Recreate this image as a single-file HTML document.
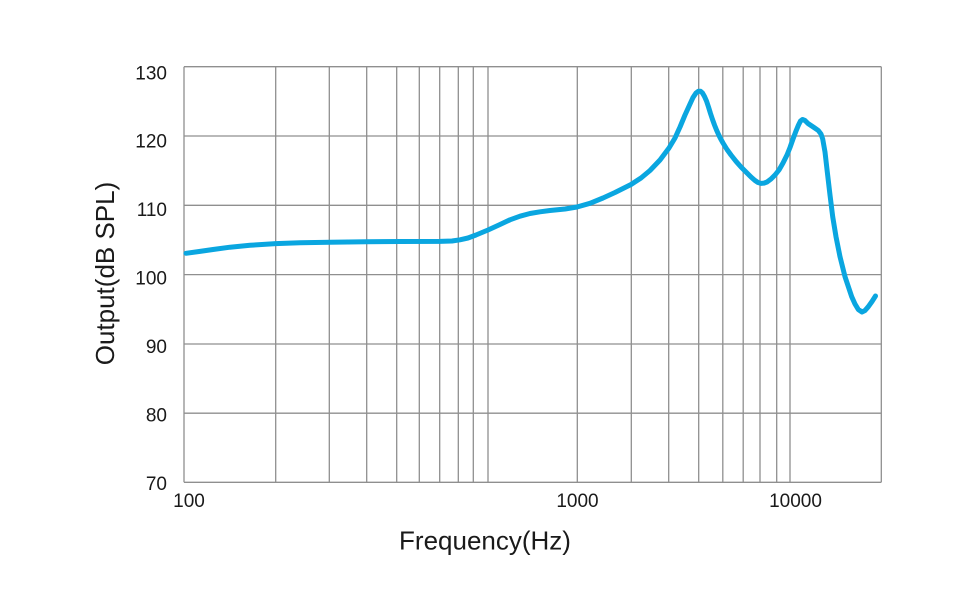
<!DOCTYPE html>
<html>
<head>
<meta charset="utf-8">
<style>
  html, body { margin: 0; padding: 0; background: #ffffff; }
  body { width: 976px; height: 613px; overflow: hidden; }
  svg { display: block; }
  text { font-family: "Liberation Sans", "Noto Sans CJK SC", sans-serif; fill: #1a1a1a; }
</style>
</head>
<body>
<svg width="976" height="613" viewBox="0 0 976 613" xmlns="http://www.w3.org/2000/svg">
  <rect x="0" y="0" width="976" height="613" fill="#ffffff"/>
  <g stroke="#8f8f8f" stroke-width="1.3" fill="none">
    <line x1="184" y1="66.7" x2="881.3" y2="66.7"/>
    <line x1="184" y1="136" x2="881.3" y2="136"/>
    <line x1="184" y1="205.3" x2="881.3" y2="205.3"/>
    <line x1="184" y1="274.6" x2="881.3" y2="274.6"/>
    <line x1="184" y1="344" x2="881.3" y2="344"/>
    <line x1="184" y1="413.2" x2="881.3" y2="413.2"/>
    <line x1="184" y1="482.3" x2="881.3" y2="482.3"/>
    <line x1="184" y1="66.7" x2="184" y2="482.3"/>
    <line x1="275.7" y1="66.7" x2="275.7" y2="482.3"/>
    <line x1="329.3" y1="66.7" x2="329.3" y2="482.3"/>
    <line x1="366.7" y1="66.7" x2="366.7" y2="482.3"/>
    <line x1="396.7" y1="66.7" x2="396.7" y2="482.3"/>
    <line x1="419.3" y1="66.7" x2="419.3" y2="482.3"/>
    <line x1="439.7" y1="66.7" x2="439.7" y2="482.3"/>
    <line x1="458.3" y1="66.7" x2="458.3" y2="482.3"/>
    <line x1="473.3" y1="66.7" x2="473.3" y2="482.3"/>
    <line x1="488" y1="66.7" x2="488" y2="482.3"/>
    <line x1="577.3" y1="66.7" x2="577.3" y2="482.3"/>
    <line x1="631.3" y1="66.7" x2="631.3" y2="482.3"/>
    <line x1="668.7" y1="66.7" x2="668.7" y2="482.3"/>
    <line x1="698.7" y1="66.7" x2="698.7" y2="482.3"/>
    <line x1="722.8" y1="66.7" x2="722.8" y2="482.3"/>
    <line x1="743.2" y1="66.7" x2="743.2" y2="482.3"/>
    <line x1="760" y1="66.7" x2="760" y2="482.3"/>
    <line x1="776.7" y1="66.7" x2="776.7" y2="482.3"/>
    <line x1="790" y1="66.7" x2="790" y2="482.3"/>
    <line x1="881.3" y1="66.7" x2="881.3" y2="482.3"/>
  </g>

  <polyline fill="none" stroke="#0aa6e0" stroke-width="5" stroke-linejoin="round" stroke-linecap="round"
    points="186,253.3 200,251.4 213,249.5 230,247.2 250,245.3 275.7,243.6 300,242.8 330,242.2 366,241.7 400,241.5 440,241.4 452,241 460,239.8 468,238 476,235 488,230 500,224.5 510,219.8 520,216.2 530,213.5 540,211.8 550,210.5 565,209 577,207 590,203.3 603,198 615,192.5 631,184.5 641,178 650,170.5 660,160 669,148 675,138 680,127 685,115 690,104 693,97.5 696,93 698.5,91.2 700.5,91.2 702.5,93 704.5,96.5 706.5,101 708.5,107 710.5,113.5 712.5,119.5 714.5,125 716.5,130 718.5,134.5 720.5,138.5 723,143 727,149.5 731,155 736,161.3 741,167 746,172 751,177 755,180.5 758,182.5 761,183.4 764,183.1 767,182 771,179 775,175 779,170 783,163 787,155 790,147.5 793,139 796,131 798.5,125 800.5,121 802.5,119.5 805,120.5 808,123.5 811,125.5 814,127.5 818.3,130.5 821,134 822.7,139 825,152 827.3,172 830,195 832.7,216.7 836,236.7 840,256.7 845,276.7 851.7,296.7 855,304 858.3,309.5 862,312 865,310.5 868.3,306.7 872,301.5 875.5,296"/>

  <g font-size="19" text-anchor="end">
    <text x="167" y="79.3">130</text>
    <text x="167" y="147.7">120</text>
    <text x="167" y="216.2">110</text>
    <text x="167" y="284.6">100</text>
    <text x="167" y="353.1">90</text>
    <text x="167" y="421.5">80</text>
    <text x="167" y="490">70</text>
  </g>

  <g font-size="19" text-anchor="middle">
    <text x="189" y="507">100</text>
    <text x="577.5" y="507">1000</text>
    <text x="795.5" y="507">10000</text>
  </g>

  <text x="485" y="549.5" font-size="26" text-anchor="middle">Frequency(Hz)</text>
  <text x="0" y="0" font-size="26" text-anchor="middle" transform="translate(114,273.5) rotate(-90)">Output(dB SPL)</text>
</svg>
</body>
</html>
